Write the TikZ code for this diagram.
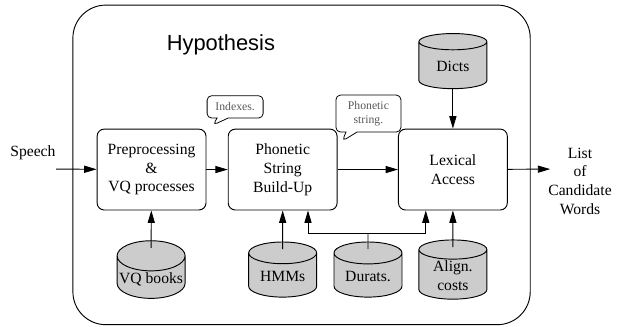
\documentclass[tikz,border=0pt]{standalone}
\usepackage{fontspec}
\setmainfont{Liberation Serif}
\newfontfamily\headfont{Liberation Sans}
\usetikzlibrary{shapes.geometric,shapes.callouts,arrows.meta,calc}
\colorlet{store fill}{gray!40}
\colorlet{note text}{black!65}
\tikzset{process/.style={draw, rounded corners=0.16cm, minimum width=2.45cm, minimum height=1.82cm, align=center, line width=0.6pt},
	store/.style={cylinder, shape border rotate=90, aspect=0.45, draw, fill=store fill, minimum width=1.53cm, minimum height=1.24cm, inner sep=1pt, align=center, line width=0.6pt, anchor=shape center},
	note/.style={rectangle callout, draw, rounded corners=0.1cm, text=note text, font=\fontsize{7.5}{9}\selectfont, align=center, line width=0.5pt},
	flow/.style={-{Triangle[length=2.8mm,width=1.6mm]}, line width=0.6pt}}

\begin{document}
\begin{tikzpicture}[font=\fontsize{10}{12}\selectfont]
		\useasboundingbox (0,0) rectangle (14.04,7.335);
		\draw[rounded corners=0.74cm, line width=0.6pt] (1.64,0.03) rectangle (11.93,7.22);
		\node[font=\headfont\fontsize{14}{16}\selectfont] (hyp) at (4.97,6.32) {Hypothesis};
		
		\node[process] (prep) at (3.41,3.52) {Preprocessing\\\&\\VQ processes};
		\node[process] (phon) at (6.36,3.52) {Phonetic\\String\\Build-Up};
		\node[process] (lex) at (10.19,3.52) {Lexical\\Access};
		
		\node[store] (vq) at (3.40,1.27) {VQ books};
		\node[store] (hmm) at (6.36,1.27) {HMMs};
		\node[store] (dur) at (8.28,1.27) {Durats.};
		\node[store] (align) at (10.19,1.27) {Align.\\costs};
		\node[store] (dict) at (10.19,5.96) {Dicts};
		
		\node[note, minimum width=1.26cm, minimum height=0.5cm, callout absolute pointer={(4.79,4.52)}] (idx) at (5.29,4.93) {Indexes.};
		\node[note, minimum width=1.46cm, minimum height=0.83cm, callout absolute pointer={(7.70,4.16)}] (phstr) at (8.29,4.78) {Phonetic\\string.};
		
		\node (speech) at (0.74,3.89) {Speech};
		\coordinate (speechin) at (1.26,3.53);
		\node[align=center] (words) at (13.05,3.26) {List\\of\\Candidate\\Words};
		\coordinate (wordsout) at (12.38,3.53);
		
		\draw[flow] (speechin) -- (prep);
		\draw[flow] (prep) -- (phon);
		\draw[flow] (phon) -- (lex);
		\draw[flow] (lex) -- (wordsout);
		\draw[flow] (dict) -- (lex);
		\draw[flow] ($(vq.north)+(0,-0.17)$) -- (prep);
		\draw[flow] ($(hmm.north)+(0,-0.17)$) -- (phon);
		\draw[flow] ($(align.north)+(0,-0.17)$) -- (lex);
		\coordinate (split) at (8.28,2.09);
		\draw[line width=0.6pt] ($(dur.north)+(0,-0.17)$) -- (split);
		\draw[flow] (split) -| ($(phon.south)+(0.57,0)$);
		\draw[flow] (split) -| ($(lex.south)+(-0.61,0)$);
		\end{tikzpicture}
\end{document}
